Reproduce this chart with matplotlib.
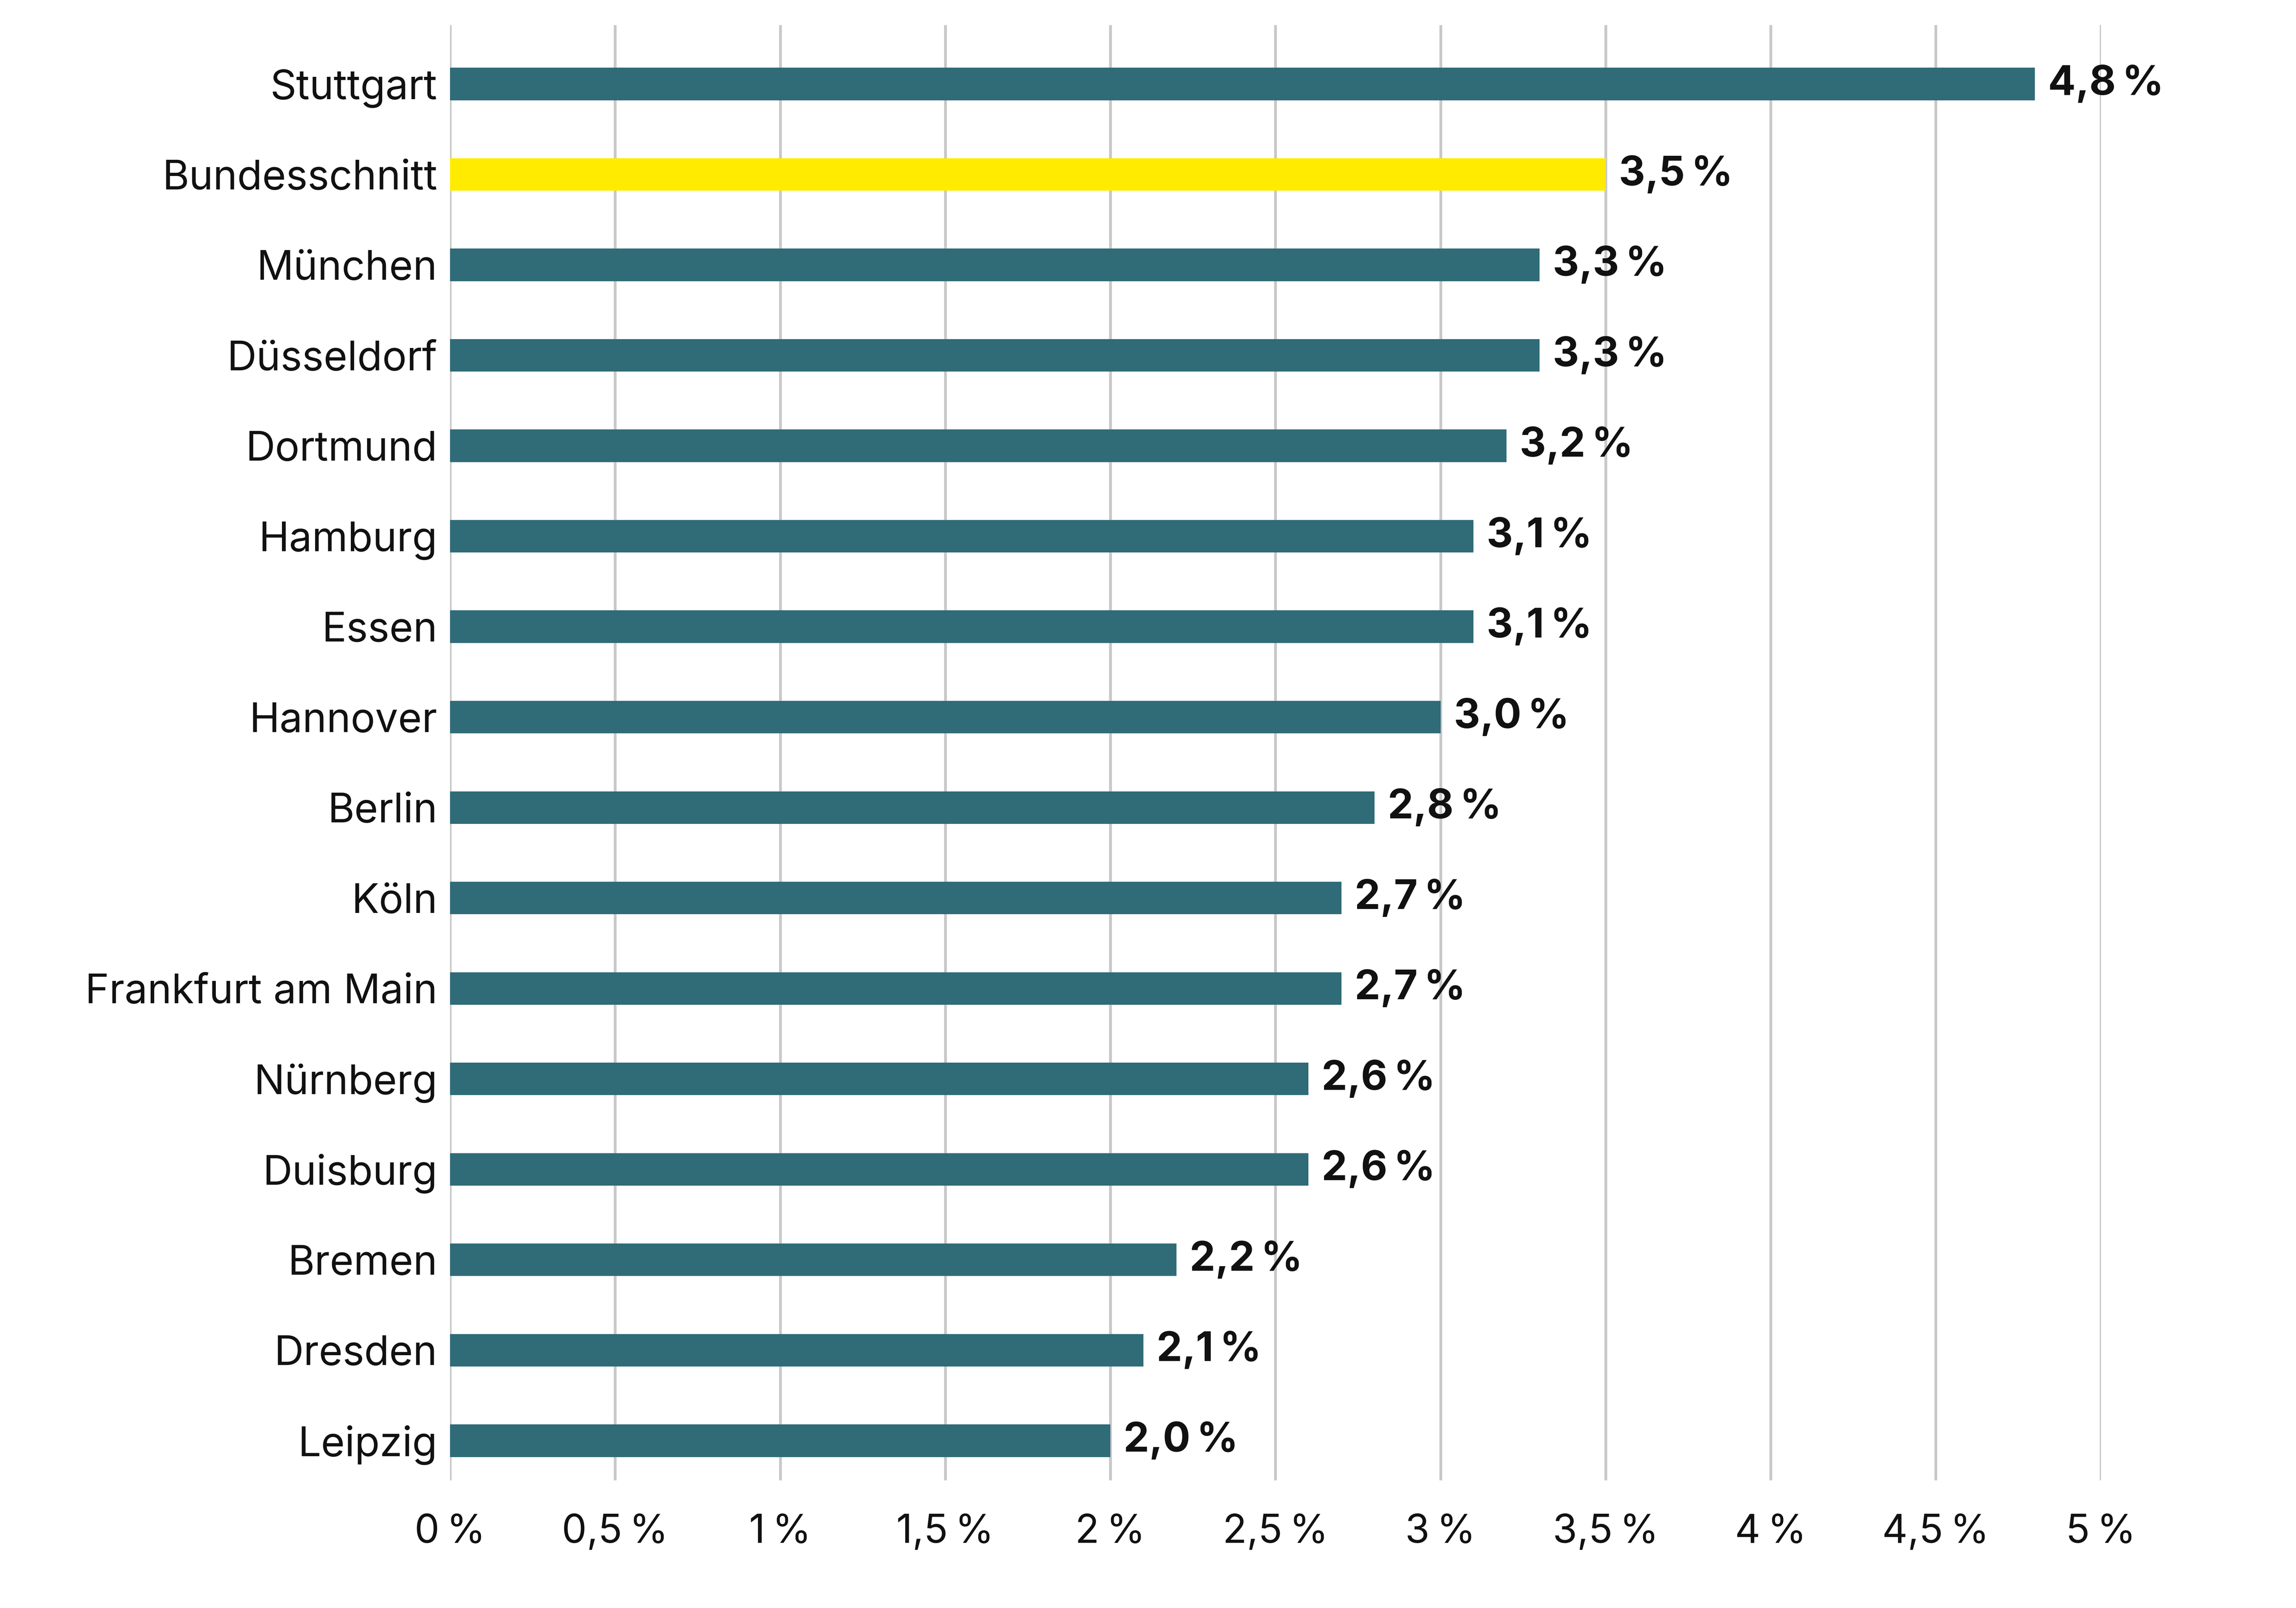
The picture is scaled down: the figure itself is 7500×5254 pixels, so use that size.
import matplotlib
matplotlib.use("Agg")
import matplotlib.pyplot as plt

cities = ["Stuttgart", "Bundesschnitt", "München", "Düsseldorf", "Dortmund", "Hamburg",
          "Essen", "Hannover", "Berlin", "Köln", "Frankfurt am Main", "Nürnberg",
          "Duisburg", "Bremen", "Dresden", "Leipzig"]
values = [4.8, 3.5, 3.3, 3.3, 3.2, 3.1, 3.1, 3.0, 2.8, 2.7, 2.7, 2.6, 2.6, 2.2, 2.1, 2.0]
ticks = [0, 0.5, 1, 1.5, 2, 2.5, 3, 3.5, 4, 4.5, 5]
tick_labels = ["0\u2009%", "0,5\u2009%", "1\u2009%", "1,5\u2009%", "2\u2009%", "2,5\u2009%",
               "3\u2009%", "3,5\u2009%", "4\u2009%", "4,5\u2009%", "5\u2009%"]
highlight = "Bundesschnitt"

plt.rcParams['font.family'] = ['Inter', 'DejaVu Sans']

fig = plt.figure(figsize=(25, 25 * 5254 / 7500), dpi=300)
ax = fig.add_axes([0.196, 0.0793, 0.719, 0.905])

ypos = [-i for i in range(len(cities))]
colors = ["#FFEB00" if c == highlight else "#306B78" for c in cities]
ax.barh(ypos, values, height=0.36, color=colors, zorder=3)

for y, v in zip(ypos, values):
    ax.text(v + 0.04, y, f"{v:.1f}".replace(".", ",") + "\u2009%", va="center", ha="left",
            fontsize=32, fontweight="bold", color="#111111", zorder=4)

ax.set_yticks(ypos)
ax.set_yticklabels(cities, fontsize=32, color="#111111")
ax.set_xticks(ticks)
ax.set_xticklabels(tick_labels, fontsize=31, color="#111111")
ax.set_xlim(0, 5)
ax.set_ylim(-len(cities) + 1 - 0.44, 0.65)
ax.tick_params(axis="both", length=0)
ax.tick_params(axis="x", pad=26)
ax.tick_params(axis="y", pad=10)
for s in ax.spines.values():
    s.set_visible(False)
ax.grid(axis="x", color="#c8c8c8", linewidth=2.2, zorder=0)
ax.grid(axis="y", visible=False)
ax.set_axisbelow(True)

fig.savefig("out.png", dpi=300, facecolor="white")
